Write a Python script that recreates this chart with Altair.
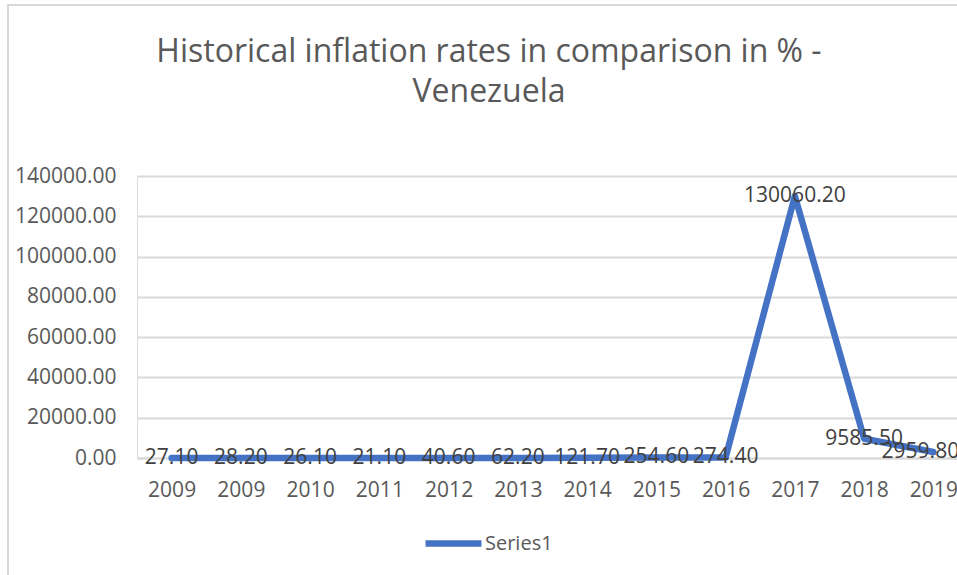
import altair as alt
import pandas as pd

# ---- data ----
years = ["2009", "2009", "2010", "2011", "2012", "2013", "2014", "2015",
         "2016", "2017", "2018", "2019"]
inflation = [27.10, 28.20, 26.10, 21.10, 40.60, 62.20, 121.70, 254.60,
             274.40, 130060.20, 9585.50, 2959.80]
series_name = "Series1"
title_lines = ["Historical inflation rates in comparison in % -", "Venezuela"]

df = pd.DataFrame({
    "idx": list(range(len(years))),
    "year": years,
    "value": inflation,
    "series": [series_name] * len(years),
})

FONT = "Open Sans"
GREY = "#595959"
DARK = "#404040"
GRID = "#D9D9D9"
BLUE = "#4472C4"

label_expr = "[" + ",".join("'%s'" % y for y in years) + "][datum.value]"

x_enc = alt.X(
    "idx:O",
    scale=alt.Scale(type="point", padding=0.5, range=[0, 831]),
    axis=alt.Axis(title=None, labelExpr=label_expr, labelAngle=0, ticks=False,
                  grid=False, domain=True, domainColor=GRID, domainWidth=2,
                  labelFontSize=21, labelColor=GREY, labelPadding=21,
                  labelFont=FONT),
)
y_enc = alt.Y(
    "value:Q",
    scale=alt.Scale(domain=[0, 140000], nice=False, zero=True),
    axis=alt.Axis(title=None, values=list(range(0, 140001, 20000)), format=".2f",
                  ticks=False, domain=False, grid=True, gridColor=GRID,
                  gridWidth=2, labelFontSize=21, labelColor=GREY,
                  labelPadding=21, labelFont=FONT),
)

base = alt.Chart(df)

line = base.mark_line(strokeWidth=6.5, strokeCap="round", strokeJoin="round").encode(
    x=x_enc,
    y=y_enc,
    color=alt.Color(
        "series:N",
        scale=alt.Scale(range=[BLUE]),
        legend=alt.Legend(
            title=None, orient="none", legendX=285, legendY=336,
            symbolType="stroke", symbolSize=3136, symbolStrokeWidth=6.5,
            labelFontSize=20, labelColor=GREY, labelFont=FONT, labelOffset=0,
        ),
    ),
)

labels_main = base.transform_filter(f"datum.idx < {len(years) - 1}").mark_text(
    fontSize=21, color=DARK, font=FONT, baseline="middle", align="center"
).encode(x=alt.X("idx:O"), y=alt.Y("value:Q"), text=alt.Text("value:Q", format=".2f"))

labels_last = base.transform_filter(f"datum.idx == {len(years) - 1}").mark_text(
    fontSize=21, color=DARK, font=FONT, baseline="middle", align="center", dx=-13
).encode(x=alt.X("idx:O"), y=alt.Y("value:Q"), text=alt.Text("value:Q", format=".2f"))

deco = pd.DataFrame({"t": [title_lines[0]], "t2": [title_lines[1]]})
title1 = alt.Chart(deco).mark_text(
    fontSize=32, color=GREY, font=FONT, align="center", baseline="alphabetic"
).encode(x=alt.value(352), y=alt.value(-114), text="t:N")
title2 = alt.Chart(deco).mark_text(
    fontSize=32, color=GREY, font=FONT, align="center", baseline="alphabetic"
).encode(x=alt.value(352), y=alt.value(-74), text="t2:N")

border = alt.Chart(deco).mark_rect(fill=None, stroke=GRID, strokeWidth=2).encode(
    x=alt.value(8 - 137), x2=alt.value(2000), y=alt.value(5 - 176), y2=alt.value(2000)
)

chart = alt.layer(border, line, labels_main, labels_last, title1, title2).properties(
    width=820,
    height=282,
    autosize=alt.AutoSizeParams(type="none"),
    padding={"left": 137, "top": 176, "right": 0, "bottom": 117},
).configure_view(stroke=None).configure(font=FONT, background="white")

chart.save("out.html", embed_options={"renderer": "svg", "actions": False})
